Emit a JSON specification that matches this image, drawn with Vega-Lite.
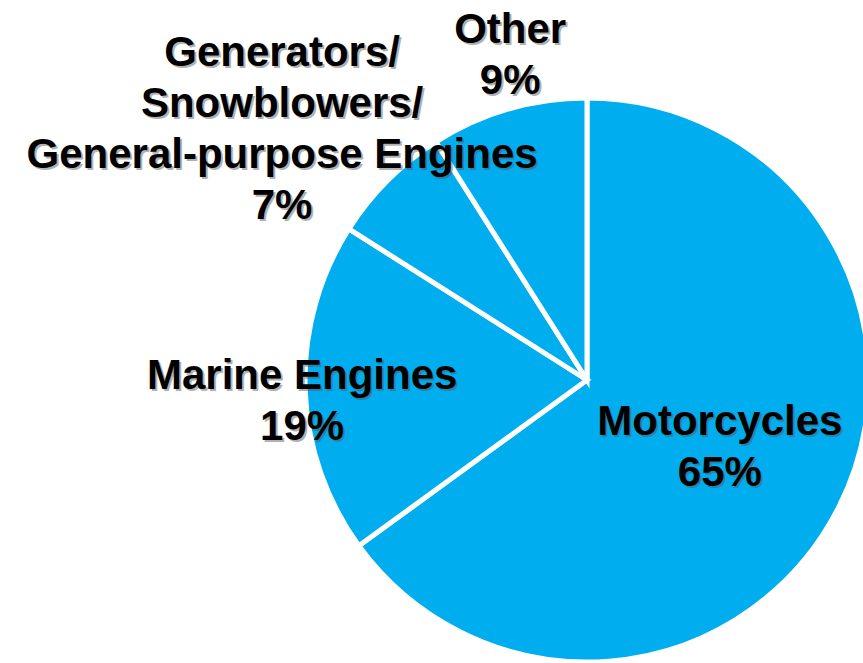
{
  "$schema": "https://vega.github.io/schema/vega-lite/v6.json",
  "width": 552,
  "height": 560,
  "autosize": {"type": "none"},
  "padding": {"left": 311, "top": 100, "right": 0, "bottom": 3},
  "background": "white",
  "config": {"view": {"stroke": null}},
  "data": {
    "values": [
      {"category": "Motorcycles", "value": 65, "rank": 1, "label": "Motorcycles\n65%"},
      {"category": "Marine Engines", "value": 19, "rank": 2, "label": "Marine Engines\n19%"},
      {"category": "Generators", "value": 7, "rank": 3, "label": "Generators/\nSnowblowers/\nGeneral-purpose Engines\n7%"},
      {"category": "Other", "value": 9, "rank": 4, "label": "Other\n9%"}
    ]
  },
  "encoding": {
    "theta": {"field": "value", "type": "quantitative", "stack": true},
    "order": {"field": "rank", "type": "quantitative", "sort": "ascending"}
  },
  "layer": [
    {"mark": {"type": "arc", "outerRadius": 282, "fill": "#00AEEF", "stroke": "white", "strokeWidth": 5}},
    {
      "encoding": {"text": {"condition": {"test": "datum.category === 'Motorcycles'", "field": "label"}, "value": ""}},
      "layer": [
        {"mark": {"type": "text", "radius": 148, "dx": 3, "dy": -23, "lineBreak": "\n", "lineHeight": 51, "font": "Liberation Sans", "fontWeight": "bold", "fontSize": 42, "align": "center", "baseline": "middle", "fill": "#555555", "opacity": 0.45}},
        {"mark": {"type": "text", "radius": 148, "dx": 1, "dy": -25, "lineBreak": "\n", "lineHeight": 51, "font": "Liberation Sans", "fontWeight": "bold", "fontSize": 42, "align": "center", "baseline": "middle", "fill": "#000000"}}
      ]
    },
    {
      "encoding": {"text": {"condition": {"test": "datum.category === 'Marine Engines'", "field": "label"}, "value": ""}},
      "layer": [
        {"mark": {"type": "text", "radius": 285, "dx": 2, "dy": -11, "lineBreak": "\n", "lineHeight": 51, "font": "Liberation Sans", "fontWeight": "bold", "fontSize": 42, "align": "center", "baseline": "middle", "fill": "#555555", "opacity": 0.45}},
        {"mark": {"type": "text", "radius": 285, "dx": 0, "dy": -13, "lineBreak": "\n", "lineHeight": 51, "font": "Liberation Sans", "fontWeight": "bold", "fontSize": 42, "align": "center", "baseline": "middle", "fill": "#000000"}}
      ]
    },
    {
      "encoding": {"text": {"condition": {"test": "datum.category === 'Generators'", "field": "label"}, "value": ""}},
      "layer": [
        {"mark": {"type": "text", "radius": 393, "dx": -25, "dy": -47, "lineBreak": "\n", "lineHeight": 51, "font": "Liberation Sans", "fontWeight": "bold", "fontSize": 42, "align": "center", "baseline": "middle", "fill": "#555555", "opacity": 0.45}},
        {"mark": {"type": "text", "radius": 393, "dx": -27, "dy": -49, "lineBreak": "\n", "lineHeight": 51, "font": "Liberation Sans", "fontWeight": "bold", "fontSize": 42, "align": "center", "baseline": "middle", "fill": "#000000"}}
      ]
    },
    {
      "encoding": {"text": {"condition": {"test": "datum.category === 'Other'", "field": "label"}, "value": ""}},
      "layer": [
        {"mark": {"type": "text", "radius": 340, "dx": 20, "dy": -22, "lineBreak": "\n", "lineHeight": 51, "font": "Liberation Sans", "fontWeight": "bold", "fontSize": 42, "align": "center", "baseline": "middle", "fill": "#555555", "opacity": 0.45}},
        {"mark": {"type": "text", "radius": 340, "dx": 18, "dy": -24, "lineBreak": "\n", "lineHeight": 51, "font": "Liberation Sans", "fontWeight": "bold", "fontSize": 42, "align": "center", "baseline": "middle", "fill": "#000000"}}
      ]
    }
  ]
}
